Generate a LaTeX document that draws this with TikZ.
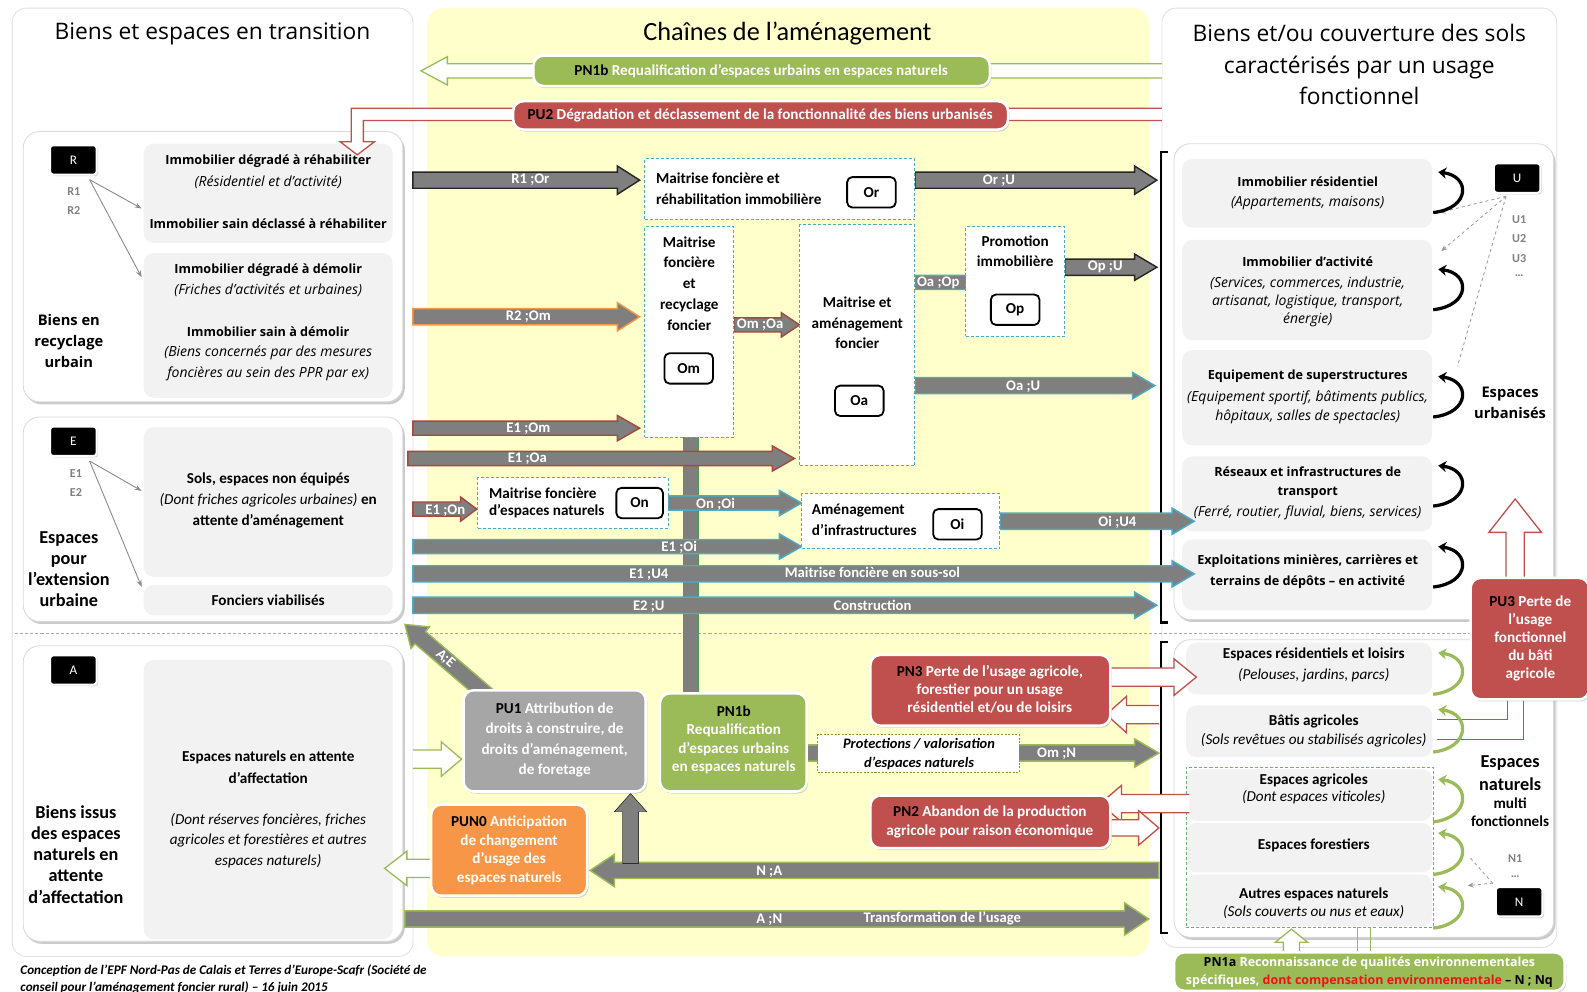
\documentclass[tikz,border=0pt]{standalone}
\usepackage{fontspec}
\setmainfont{Carlito}
\newfontfamily\osans{Open Sans}
\usetikzlibrary{shadows,fit,arrows.meta}
\definecolor{arrgray}{RGB}{127,127,127}
\definecolor{yel}{RGB}{255,255,204}
\definecolor{cblue}{RGB}{75,172,198}
\definecolor{cred}{RGB}{192,80,77}
\definecolor{cbrown}{RGB}{165,72,62}
\definecolor{corange}{RGB}{247,150,70}
\definecolor{cgreen}{RGB}{155,187,89}
\definecolor{vgreen}{RGB}{70,160,80}
\definecolor{cgray}{RGB}{166,166,166}
\definecolor{lgray}{RGB}{242,242,242}
\definecolor{tred}{RGB}{235,20,20}
\newcounter{tn}
\newcommand{\Tx}[3]{\stepcounter{tn}\node[#1] (t\arabic{tn}) at (#2) {#3};}
\newcommand{\BArr}[7]{\draw[#7] ({#1},{#3-#4}) -- ({#2-(#6)},{#3-#4}) -- ({#2-(#6)},{#3-#5}) -- ({#2},{#3}) -- ({#2-(#6)},{#3+#5}) -- ({#2-(#6)},{#3+#4}) -- ({#1},{#3+#4}) -- cycle;}
\newcommand{\VArr}[7]{\draw[#7] ({#1-#4},{#2}) -- ({#1-#4},{#3-(#6)}) -- ({#1-#5},{#3-(#6)}) -- ({#1},{#3}) -- ({#1+#5},{#3-(#6)}) -- ({#1+#4},{#3-(#6)}) -- ({#1+#4},{#2}) -- cycle;}
\newcommand{\Curv}[3]{\draw[#3, line width=3.2pt, -{Stealth[length=8pt, width=11pt]}] (1416,#2) .. controls (1453,{#2-4}) and (1453,{#1+4}) .. (1421,#1);}
\tikzset{
 outerpanel/.style={draw=black!12, line width=0.8pt, fill=white, rounded corners=14pt, inner sep=0pt},
 yelp/.style={fill=yel, rounded corners=16pt, inner sep=0pt},
 sub/.style={draw=black!15, line width=0.8pt, fill=white, rounded corners=16pt, inner sep=0pt, drop shadow={shadow xshift=2pt, shadow yshift=-2.5pt, fill=black!40}},
 gb/.style={fill=lgray, rounded corners=10pt, inner sep=0pt},
 blk/.style={fill=black, text=white, draw=white, line width=2pt, rounded corners=3pt, minimum width=46pt, minimum height=29pt, inner sep=0pt, font=\fontsize{13}{14}\selectfont, drop shadow={shadow xshift=1.5pt, shadow yshift=-1.5pt, fill=black!35}},
 db/.style={draw=cblue, dash pattern=on 3pt off 2pt, fill=white, line width=1pt, inner sep=0pt},
 ob/.style={draw=black, line width=1.8pt, rounded corners=5pt, fill=white, minimum width=48pt, minimum height=30pt, inner sep=0pt, font=\bfseries\fontsize{15}{16}\selectfont},
 pbox/.style={rounded corners=10pt, draw=white, line width=2.5pt, inner sep=0pt, drop shadow={shadow xshift=1.5pt, shadow yshift=-2pt, fill=black!35}},
 ttl/.style={font=\osans\fontsize{22.5}{31}\selectfont, align=center, inner sep=0pt},
 tb/.style={font=\bfseries\fontsize{15}{17}\selectfont, inner sep=0pt},
 ti/.style={font=\itshape\fontsize{15}{17}\selectfont, inner sep=0pt},
 tob/.style={font=\osans\bfseries\fontsize{12.5}{15}\selectfont, inner sep=0pt},
 toi/.style={font=\osans\itshape\fontsize{13.8}{15}\selectfont, inner sep=0pt},
 tw/.style={font=\bfseries\fontsize{15}{17}\selectfont, text=white, inner sep=0pt},
 tl/.style={font=\bfseries\fontsize{18}{21}\selectfont, inner sep=0pt},
 tsg/.style={font=\bfseries\fontsize{12}{13}\selectfont, text=black!50, inner sep=0pt},
 al/.style={font=\bfseries\fontsize{14.5}{15}\selectfont, text=white, inner sep=0pt},
 captxt/.style={font=\bfseries\itshape\fontsize{13}{14}\selectfont, anchor=west, inner sep=0pt},
 ga/.style={fill=arrgray, draw=#1, line width=1.4pt, line join=miter},
 hol/.style={fill=white, draw=#1, line width=1.3pt, line join=miter},
 thinarr/.style={black!45, line width=0.9pt, -{Stealth[length=7pt,width=5pt]}},
}
\begin{document}
\begin{tikzpicture}[x=1pt,y=-1pt]
\useasboundingbox (0,0) rectangle (1568,980);
\fill[white] (0,0) rectangle (1568,980);
% main panels
\node[outerpanel, fit={(12,8) (408,945)}] (Lpanel) {};
\node[yelp, fit={(422,8) (1135,945)}] (Mpanel) {};
\node[outerpanel, fit={(1148,8) (1538,936)}] (Rpanel) {};
\draw[black!35, dash pattern=on 3pt off 2pt, line width=0.9pt] (15,626) -- (1555,626);
% titles
\node[ttl] (title1) at (210,33) {Biens et espaces en transition};
\node[ttl, font=\fontsize{26}{30}\selectfont] (title2) at (778,33) {Chaînes de l’aménagement};
\node[ttl] (title3) at (1343,64) {Biens et/ou couverture des sols\\caractérisés par un usage\\fonctionnel};
% left subpanels
\node[sub, fit={(23,130) (398,397)}] (Rp) {};
\node[sub, fit={(23,412) (398,614)}] (Ep) {};
\node[sub, fit={(23,638) (398,930)}] (Ap) {};
\node[gb, fit={(142,142) (388,240)}] (gRA) {};
\node[gb, fit={(142,250) (388,393)}] (gRB) {};
\node[gb, fit={(142,422) (388,570)}] (gEC) {};
\node[gb, fit={(142,578) (388,608)}] (gED) {};
\node[gb, fit={(142,652) (388,928)}] (gAE) {};
\node[blk] (Rbox) at (72.5,158) {R};
\node[blk] (Ebox) at (72.5,436) {E};
\node[blk] (Abox) at (72.5,662) {A};
\Tx{tsg}{73,189}{R1}
\Tx{tsg}{73,208}{R2}
\Tx{tsg}{75,468}{E1}
\Tx{tsg}{75,487}{E2}
\draw[thinarr] (Rbox.south east) ++(-8,4) -- (140,206);
\draw[thinarr] (Rbox.south east) ++(-8,4) -- (140,274);
\draw[thinarr] (Ebox.south east) ++(-8,4) -- (140,485);
\draw[thinarr] (Ebox.south east) ++(-8,4) -- (140,580);
\Tx{tob}{265,159}{Immobilier dégradé à réhabiliter}
\Tx{toi}{265,180}{(Résidentiel et d’activité)}
\Tx{tob}{265,221}{Immobilier sain déclassé à réhabiliter}
\Tx{tob}{265,267}{Immobilier dégradé à démolir}
\Tx{toi}{265,287}{(Friches d’activités et urbaines)}
\Tx{tob}{265,328}{Immobilier sain à démolir}
\Tx{toi}{265,349}{(Biens concernés par des mesures}
\Tx{toi}{265,369}{foncières au sein des PPR par ex)}
\Tx{tl,align=center,font=\osans\bfseries\fontsize{14.5}{21}\selectfont}{68,337}{Biens en\\recyclage\\urbain}
\Tx{tb}{265,474}{Sols, espaces non équipés}
\Tx{tb}{265,494}{{\mdseries\itshape (Dont friches agricoles urbaines)} en}
\Tx{tb}{265,515}{attente d’aménagement}
\Tx{tb}{265,593}{Fonciers viabilisés}
\Tx{tl,align=center,font=\bfseries\fontsize{18}{20.7}\selectfont}{68,562}{Espaces\\pour\\l’extension\\urbaine}
\Tx{tb}{265,748}{Espaces naturels en attente}
\Tx{tb}{265,769}{d’affectation}
\Tx{ti}{265,810}{(Dont réserves foncières, friches}
\Tx{ti}{265,830}{agricoles et forestières et autres}
\Tx{ti}{265,851}{espaces naturels)}
\Tx{tl,align=center,font=\bfseries\fontsize{18}{21}\selectfont}{75,844}{Biens issus\\des espaces\\naturels en\\attente\\d’affectation}
% right subpanels
\node[sub, fit={(1160,142) (1535,612)}] (Up) {};
\node[sub, fit={(1160,632) (1535,926)}] (Np) {};
\node[gb, fit={(1168,157) (1415,225)}] (gU1) {};
\node[gb, fit={(1168,237) (1415,336)}] (gU2) {};
\node[gb, fit={(1168,346) (1415,440)}] (gU3) {};
\node[gb, fit={(1168,451) (1415,525)}] (gU4) {};
\node[gb, fit={(1168,533) (1415,603)}] (gU5) {};
\Tx{tob}{1292,180}{Immobilier résidentiel}
\Tx{toi}{1292,201}{(Appartements, maisons)}
\Tx{tob}{1292,259}{Immobilier d’activité}
\Tx{toi}{1292,280}{(Services, commerces, industrie,}
\Tx{toi}{1292,298}{artisanat, logistique, transport,}
\Tx{toi}{1292,316}{énergie)}
\Tx{tob}{1292,372}{Equipement de superstructures}
\Tx{toi}{1292,393}{(Equipement sportif, bâtiments publics,}
\Tx{toi}{1292,412}{hôpitaux, salles de spectacles)}
\Tx{tob}{1292,466}{Réseaux et infrastructures de}
\Tx{tob}{1292,487}{transport}
\Tx{toi}{1292,507}{(Ferré, routier, fluvial, biens, services)}
\Tx{tob}{1292,554}{Exploitations minières, carrières et}
\Tx{tob}{1292,575}{terrains de dépôts – en activité}
\node[blk] (Ubox) at (1499,176) {U};
\Tx{tsg}{1501,217}{U1}
\Tx{tsg}{1501,236}{U2}
\Tx{tsg}{1501,255}{U3}
\Tx{tsg}{1501,272}{…}
\draw[black!40, dashed, line width=0.8pt, -{Stealth[length=6pt,width=5pt]}] (1488,194) -- (1422,210);
\draw[black!40, dashed, line width=0.8pt, -{Stealth[length=6pt,width=5pt]}] (1488,194) -- (1424,248);
\draw[black!40, dashed, line width=0.8pt] (1488,194) -- (1440,362);
\Tx{tl,align=center,font=\osans\bfseries\fontsize{14.5}{21}\selectfont}{1492,398}{Espaces\\urbanisés}
\node[gb, fit={(1172,635) (1415,686)}] (gN1) {};
\node[gb, fit={(1172,697) (1415,748)}] (gN2) {};
\node[gb, fit={(1172,760) (1415,811)}] (gN3) {};
\node[gb, fit={(1172,813) (1415,862)}] (gN4) {};
\node[gb, fit={(1172,864) (1415,915)}] (gN5) {};
\node[draw=vgreen!80, dash pattern=on 3pt off 2pt, line width=1pt, inner sep=0pt, fit={(1172,758) (1416,916)}] (gNd) {};
\Tx{tb}{1298,647}{Espaces résidentiels et loisirs}
\Tx{ti}{1298,667}{(Pelouses, jardins, parcs)}
\Tx{tb}{1298,713}{Bâtis agricoles}
\Tx{ti}{1298,731}{(Sols revêtues ou stabilisés agricoles)}
\Tx{tb}{1298,771}{Espaces agricoles}
\Tx{ti}{1298,788}{(Dont espaces viticoles)}
\Tx{tb}{1298,835}{Espaces forestiers}
\Tx{tb}{1298,884}{Autres espaces naturels}
\Tx{ti}{1298,901}{(Sols couverts ou nus et eaux)}
\Tx{tl}{1492,754}{Espaces}
\Tx{tl}{1492,775}{naturels}
\Tx{tb}{1492,794}{multi}
\Tx{tb}{1492,811}{fonctionnels}
\node[blk] (Nbox) at (1501,891) {N};
\Tx{tsg}{1497,848}{N1}
\Tx{tsg}{1497,866}{…}
\draw[black!40, dashed, line width=0.8pt] (1453,848) -- (1476,874);
\draw[black!40, dashed, line width=0.8pt, -{Stealth[length=6pt,width=5pt]}] (Nbox.north west) ++(-2,-3) -- (1450,875);
% PU3 connector lines
\draw[cred, line width=1pt] (1489,690) -- (1489,711) -- (1420,711);
\draw[cred, line width=1pt] (1505,690) -- (1505,731) -- (1420,731);
% curved arrows
\Curv{170}{210}{black}
\Curv{266}{306}{black}
\Curv{372}{412}{black}
\Curv{460}{500}{black}
\Curv{540}{580}{black}
\Curv{645}{686}{cgreen}
\Curv{701}{743}{cgreen}
\Curv{770}{812}{cgreen}
\Curv{823}{864}{cgreen}
\Curv{876}{917}{cgreen}
% brackets
\draw[black, line width=2.2pt] (1154,150) -- (1147,150) -- (1147,615) -- (1154,615);
\draw[black, line width=2.2pt] (1154,634) -- (1147,634) -- (1147,922) -- (1154,922);
% top hollow arrows
\draw[hol=cgreen] (1148,63) -- (442,63) -- (442,56) -- (416,70) -- (442,84) -- (442,77) -- (1148,77);
\node[pbox, fill=cgreen, fit={(527,55) (978,85)}] (PNtop) {};
\Tx{tw}{752,70}{{\color{black}PN1b} Requalification d’espaces urbains en espaces naturels}
\draw[hol=cred] (1148,107) -- (347,107) -- (347,140) -- (336,140) -- (353,153) -- (370,140) -- (359,140) -- (359,119) -- (1148,119);
\node[pbox, fill=cred, fit={(507,100) (996,128)}] (PUtop) {};
\Tx{tw}{751,114}{{\color{black}PU2} Dégradation et déclassement de la fonctionnalité des biens urbanisés}
% vertical bar
\draw[fill=arrgray, draw=vgreen, line width=1.3pt] (675,432) rectangle (690,686);
% block arrows
\BArr{408}{632}{178}{8}{14}{22}{ga=black!85}
\BArr{904}{1143}{178}{8}{14}{22}{ga=black!85}
\BArr{408}{632}{313}{8}{14}{22}{ga=corange}
\BArr{725}{790}{321}{7}{12}{18}{ga=cbrown}
\BArr{904}{979}{279}{7}{12}{18}{ga=cblue}
\BArr{1052}{1143}{264}{8}{13}{22}{ga=black!85}
\BArr{904}{1141}{381}{8}{13}{22}{ga=cblue}
\BArr{408}{632}{423}{7}{12.5}{22}{ga=cbrown}
\BArr{403}{785}{453}{7}{12.5}{22}{ga=cbrown}
\BArr{408}{471}{503}{7}{12}{16}{ga=cbrown}
\BArr{660}{792}{497}{7}{12.5}{22}{ga=cblue}
\BArr{408}{792}{540}{7}{12.5}{22}{ga=cblue}
\BArr{408}{1180}{567}{8}{13}{22}{ga=cblue}
\BArr{408}{1143}{598}{8}{13}{22}{ga=cblue}
\BArr{988}{1180}{515}{8}{13}{22}{ga=cblue}
\Tx{al}{524,178}{R1 ;Or}
\Tx{al}{987,179}{Or ;U}
\Tx{al}{522,313}{R2 ;Om}
\Tx{al}{751,321}{Om ;Oa}
\Tx{al}{927,279}{Oa ;Op}
\Tx{al}{1092,264}{Op ;U}
\Tx{al}{1011,382}{Oa ;U}
\Tx{al}{522,424}{E1 ;Om}
\Tx{al}{521,453}{E1 ;Oa}
\Tx{al}{440,505}{E1 ;On}
\Tx{al}{707,498}{On ;Oi}
\Tx{al}{671,541}{E1 ;Oi}
\Tx{al}{641,568}{E1 ;U4}
\Tx{al}{862,566}{Maitrise foncière en sous-sol}
\Tx{al}{641,599}{E2 ;U}
\Tx{al}{862,598}{Construction}
\Tx{al}{1104,516}{Oi ;U4}
% dashed middle boxes
\node[db, fit={(637,157) (904,217)}] (Orbox) {};
\Tx{tb,anchor=west}{648,176}{Maitrise foncière et}
\Tx{tb,anchor=west}{648,197}{réhabilitation immobilière}
\node[ob] (Or) at (861,190) {Or};
\node[db, fit={(637,224) (725,432)}] (Ombox) {};
\Tx{tb,align=center,font=\bfseries\fontsize{15}{20.5}\selectfont}{681,280}{Maitrise\\foncière\\et\\recyclage\\foncier}
\node[ob] (Om) at (680.5,364) {Om};
\node[db, fit={(790,222) (904,460)}] (Oabox) {};
\Tx{tb,align=center,font=\bfseries\fontsize{15}{20.5}\selectfont}{847,319}{Maitrise et\\aménagement\\foncier}
\node[ob] (Oa) at (849,396) {Oa};
\node[db, fit={(954,224) (1052,332)}] (Opbox) {};
\Tx{tb,align=center,font=\bfseries\fontsize{15}{20}\selectfont}{1003,248}{Promotion\\immobilière}
\node[ob] (Op) at (1003,306) {Op};
\node[db, fit={(472,472) (660,522)}] (Onbox) {};
\Tx{tb,anchor=west}{483,487}{Maitrise foncière}
\Tx{tb,anchor=west}{483,505}{d’espaces naturels}
\node[ob, minimum width=46pt] (On) at (632,497) {On};
\node[db, fit={(792,488) (988,542)}] (Oibox) {};
\Tx{tb,anchor=west}{802,504}{Aménagement}
\Tx{tb,anchor=west}{802,524}{d’infrastructures}
\node[ob] (Oi) at (946,518) {Oi};
% lower arrows
\begin{scope}[shift={(485,690)}, rotate=139.3]
\BArr{0}{112}{0}{8}{14}{20}{ga=cgreen}
\end{scope}
\Tx{al,rotate=-41}{440,651}{A;E}
\BArr{797}{1145}{744}{8}{14}{24}{ga=cgreen}
\Tx{al}{1044,745}{Om ;N}
\BArr{1145}{583}{860}{8}{16}{-24}{ga=cgreen}
\Tx{al}{760,861}{N ;A}
\VArr{623}{853}{784}{8}{16}{-18}{fill=arrgray}
\BArr{400}{1135}{908}{8}{16}{24}{ga=cgreen}
\Tx{al}{760,909}{A ;N}
\Tx{al}{931,907}{Transformation de l’usage}
\draw[hol=cgreen] (408,741) -- (436,741) -- (436,733) -- (456,750) -- (436,767) -- (436,759) -- (408,759);
\draw[hol=cgreen] (426,849) -- (402,849) -- (402,841) -- (380,858) -- (402,875) -- (402,867) -- (426,867);
\node[draw=cgreen!80!black, dash pattern=on 2pt off 1.5pt, fill=white, line width=1pt, inner sep=0pt, fit={(808,726) (1007,763)}] (Protbox) {};
\Tx{tb,font=\bfseries\itshape\fontsize{14.3}{16}\selectfont}{908,735}{Protections / valorisation}
\Tx{tb,font=\bfseries\itshape\fontsize{14.3}{16}\selectfont}{908,754}{d’espaces naturels}
% red hollow arrows
\draw[hol=cred] (1097,660) -- (1160,660) -- (1160,651) -- (1182,669) -- (1160,687) -- (1160,678) -- (1097,678);
\draw[hol=cred] (1145,697) -- (1113,697) -- (1113,688) -- (1093,706) -- (1113,724) -- (1113,715) -- (1145,715);
\draw[hol=cred] (1175,785) -- (1108,785) -- (1108,776) -- (1087,794) -- (1108,812) -- (1108,803) -- (1175,803);
\draw[hol=cred] (1097,810) -- (1125,810) -- (1125,801) -- (1145,818) -- (1125,835) -- (1125,826) -- (1097,826);
% lower boxes
\node[pbox, fill=cgray, fit={(458,682) (638,782)}] (PU1) {};
\Tx{tw,align=center,font=\bfseries\fontsize{15}{20.3}\selectfont}{548,731}{{\color{black}PU1} Attribution de\\droits à construire, de\\droits d’aménagement,\\de foretage}
\node[pbox, fill=cgreen, fit={(652,685) (797,782)}] (PN1b) {};
\Tx{tw,align=center,font=\bfseries\fontsize{15}{18}\selectfont}{725,731}{{\color{black}PN1b}\\Requalification\\d’espaces urbains\\en espaces naturels}
\node[pbox, fill=corange, fit={(426,795) (580,885)}] (PUN0) {};
\Tx{tw,align=center,font=\bfseries\fontsize{15}{18.3}\selectfont}{503,840}{{\color{black}PUN0} Anticipation\\de changement\\d’usage des\\espaces naturels}
\node[pbox, fill=cred, fit={(860,647) (1097,717)}] (PN3) {};
\Tx{tw,align=center,font=\bfseries\fontsize{15}{18}\selectfont}{978,681}{{\color{black}PN3} Perte de l’usage agricole,\\forestier pour un usage\\résidentiel et/ou de loisirs}
\node[pbox, fill=cred, fit={(860,786) (1097,838)}] (PN2) {};
\Tx{tw,align=center,font=\bfseries\fontsize{15}{18}\selectfont}{978,812}{{\color{black}PN2} Abandon de la production\\agricole pour raison économique}
% PU3
\draw[hol=cred] (1488,572) -- (1488,526) -- (1471,526) -- (1497,493) -- (1523,526) -- (1506,526) -- (1506,572);
\node[pbox, fill=cred, fit={(1453,571) (1570,691)}] (PU3) {};
\Tx{tw,align=center,font=\bfseries\fontsize{15}{17.7}\selectfont}{1512,631}{{\color{black}PU3} Perte de\\l’usage\\fonctionnel\\du bâti\\agricole}
% PN1a
\draw[hol=cgreen] (1268,941) -- (1268,931) -- (1260,931) -- (1276,918) -- (1292,931) -- (1284,931) -- (1284,941);
\draw[cgreen, line width=1.3pt] (1341,916) -- (1341,941);
\draw[cgreen, line width=1.3pt] (1354,916) -- (1354,941);
\node[pbox, fill=cgreen, fit={(1160,941) (1546,979)}] (PN1a) {};
\Tx{tw,font=\osans\bfseries\fontsize{12.3}{14}\selectfont}{1353,952}{{\color{black}PN1a} Reconnaissance de qualités environnementales}
\Tx{tw,font=\osans\bfseries\fontsize{12.3}{14}\selectfont}{1353,969}{spécifiques, {\color{tred}dont compensation environnementale} {\color{black}– N ; Nq}}
% caption
\Tx{captxt}{20,959}{Conception de l’EPF Nord-Pas de Calais et Terres d’Europe-Scafr (Société de}
\Tx{captxt}{20,976}{conseil pour l’aménagement foncier rural) – 16 juin 2015}
\end{tikzpicture}
\end{document}
